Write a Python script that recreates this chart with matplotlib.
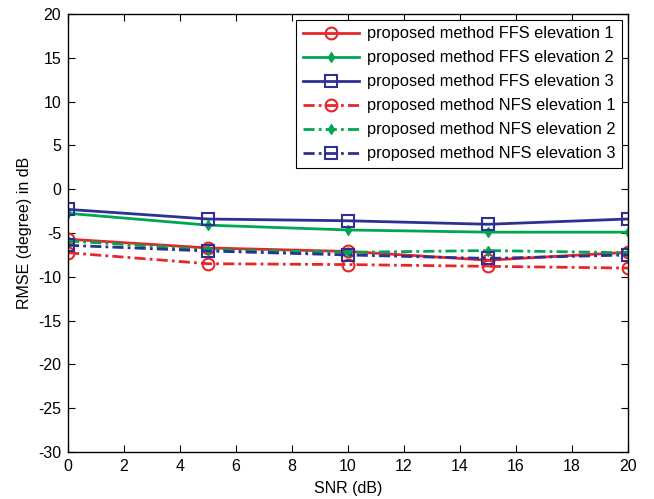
import numpy as np
import matplotlib as mpl
import matplotlib.pyplot as plt

mpl.rcParams['font.family'] = ['Liberation Sans', 'DejaVu Sans']
mpl.rcParams['axes.unicode_minus'] = False

# data
snr = [0, 5, 10, 15, 20]
ffs_el1 = [-5.7, -6.7, -7.1, -8.1, -7.2]
ffs_el2 = [-2.75, -4.1, -4.65, -4.9, -4.9]
ffs_el3 = [-2.3, -3.4, -3.6, -4.0, -3.4]
nfs_el1 = [-7.25, -8.5, -8.6, -8.8, -9.0]
nfs_el2 = [-5.9, -6.9, -7.2, -7.0, -7.25]
nfs_el3 = [-6.4, -7.05, -7.5, -7.9, -7.5]

red = '#e8262a'
green = '#00a651'
blue = '#2e3192'
dashdot = (4, 1.5, 1, 1.5)

fig = plt.figure(figsize=(6.54, 4.99), dpi=100)
ax = fig.add_axes([0.104, 0.094, 0.856, 0.878])

ax.plot(snr, ffs_el1, '-', color=red, lw=2, marker='o', ms=8.5, mfc='none', mew=1.5,
        label='proposed method FFS elevation 1')
ax.plot(snr, ffs_el2, '-', color=green, lw=2, marker='d', ms=5, mfc=green, mew=1,
        label='proposed method FFS elevation 2')
ax.plot(snr, ffs_el3, '-', color=blue, lw=2, marker='s', ms=8.5, mfc='none', mew=1.5,
        label='proposed method FFS elevation 3')
ax.plot(snr, nfs_el1, '-.', dashes=dashdot, color=red, lw=2, marker='o', ms=8.5, mfc='none', mew=1.5,
        label='proposed method NFS elevation 1')
ax.plot(snr, nfs_el2, '-.', dashes=dashdot, color=green, lw=2, marker='d', ms=5, mfc=green, mew=1,
        label='proposed method NFS elevation 2')
ax.plot(snr, nfs_el3, '-.', dashes=dashdot, color=blue, lw=2, marker='s', ms=8.5, mfc='none', mew=1.5,
        label='proposed method NFS elevation 3')

ax.set_xlim(0, 20)
ax.set_ylim(-30, 20)
ax.set_xticks(np.arange(0, 21, 2))
ax.set_yticks(np.arange(-30, 21, 5))
ax.tick_params(direction='in', top=True, right=True, labelsize=11.5, length=5, pad=5)
for s in ax.spines.values():
    s.set_linewidth(1)
ax.set_xlabel('SNR (dB)', fontsize=11.5, labelpad=5)
ax.set_ylabel('RMSE (degree) in dB', fontsize=11.5, labelpad=4)

leg = ax.legend(loc='upper right', fontsize=11.8, fancybox=False, framealpha=1,
                edgecolor='black', handlelength=3.4, handletextpad=0.5,
                labelspacing=0.55, borderaxespad=0.35)
leg.get_frame().set_linewidth(0.8)

fig.savefig('out.png', dpi=100)
